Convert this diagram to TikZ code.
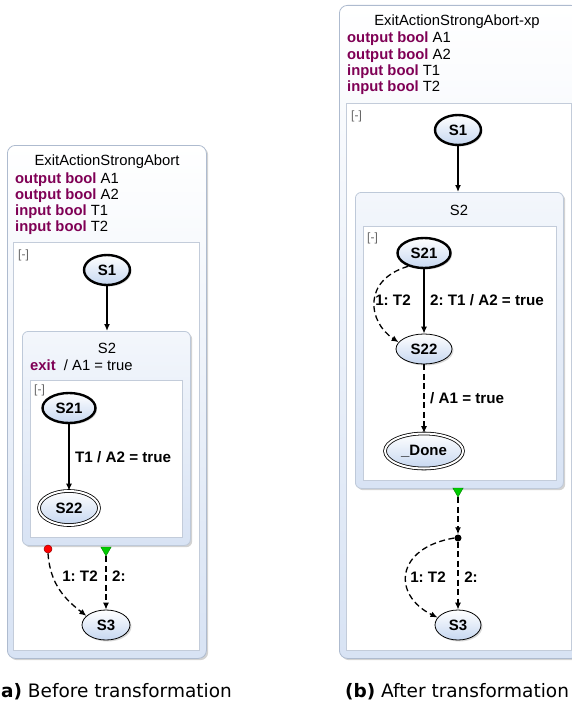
\documentclass[tikz,border=0pt]{standalone}
\usepackage{fontspec}
\setmainfont{Liberation Sans}
\newfontfamily\capfont{DejaVu Sans}
\usetikzlibrary{arrows.meta,shadows,shapes.geometric}
\definecolor{kw}{HTML}{7F0055}
\definecolor{stfill}{HTML}{C6D7F0}
\definecolor{frameline}{HTML}{AEBBCF}
\definecolor{framefill}{HTML}{D8E3F4}
\definecolor{whiteline}{HTML}{C3CCDA}
\begin{document}
\frenchspacing
\begin{tikzpicture}[x=1pt,y=-1pt,
  font=\fontsize{14.8}{16}\selectfont,
  outerbox/.style={draw=frameline, line width=0.8pt, rounded corners=8pt, top color=white, bottom color=framefill, shading angle=0,
    drop shadow={opacity=0.35, shadow xshift=1.8pt, shadow yshift=-1.8pt}, anchor=north west, inner sep=0},
  regionbox/.style={draw=whiteline, line width=0.6pt, fill=white, anchor=north west, inner sep=0},
  superbox/.style={draw=frameline!80, line width=0.8pt, rounded corners=6pt, top color=white!70!framefill, bottom color=framefill,
    drop shadow={opacity=0.35, shadow xshift=1.8pt, shadow yshift=-1.8pt}, anchor=north west, inner sep=0},
  state/.style={ellipse, draw=black, line width=0.8pt, top color=white, bottom color=stfill,
    drop shadow={opacity=0.3, shadow xshift=1.5pt, shadow yshift=-1.5pt},
    font=\fontsize{15}{17}\selectfont\bfseries, inner sep=0, minimum height=30pt},
  initstate/.style={state, line width=2.4pt},
  finalstate/.style={state, line width=0.8pt, double=white, double distance=2pt},
  arr/.style={line width=1.3pt, -{Latex[length=7pt,width=6pt]}},
  darr/.style={arr, dash pattern=on 6pt off 3.5pt},
  lbl/.style={font=\fontsize{15.2}{17}\selectfont\bfseries, inner sep=1pt},
  decl/.style={anchor=west, inner sep=0},
  coll/.style={anchor=west, inner sep=0, text=gray!80!black, font=\fontsize{12}{13}\selectfont},
  reddot/.style={circle, fill=red, draw=red!60!black, line width=0.5pt, minimum size=8pt, inner sep=0},
  greentri/.style={regular polygon, regular polygon sides=3, shape border rotate=180, fill=green!80!black, draw=green!50!black, line width=0.4pt, minimum size=12pt, inner sep=0},
  blackdot/.style={circle, fill=black, minimum size=7pt, inner sep=0}
]
\useasboundingbox (0,0) rectangle (572,706);

% ================= Left diagram =================
\node[outerbox, minimum width=199pt, minimum height=513pt] (LO) at (7,145) {};
\node[regionbox, minimum width=186pt, minimum height=408pt] (LR) at (13,242) {};
\node (LT) at (107,162) {ExitActionStrongAbort};
\node[decl] (Ld1) at (15,180) {\textcolor{kw}{\bfseries output bool} A1};
\node[decl] (Ld2) at (15,196) {\textcolor{kw}{\bfseries output bool} A2};
\node[decl] (Ld3) at (15,212) {\textcolor{kw}{\bfseries input bool} T1};
\node[decl] (Ld4) at (15,228) {\textcolor{kw}{\bfseries input bool} T2};
\node[coll] (Lc1) at (18,255) {[-]};

\node[superbox, minimum width=168pt, minimum height=214pt] (LS2) at (22,331) {};
\node (LS2t) at (107,348) {S2};
\node[decl] (LS2e) at (30,365) {\textcolor{kw}{\bfseries exit}\ \ / A1 = true};
\node[regionbox, minimum width=152pt, minimum height=157pt] (LS2r) at (30,380) {};
\node[coll] (Lc2) at (34,390) {[-]};

\node[initstate, minimum width=46pt] (LS1) at (107,270) {S1};
\node[initstate, minimum width=53pt] (LS21) at (69,408) {S21};
\node[finalstate, minimum width=60pt, minimum height=34pt] (LS22) at (69,508) {S22};
\node[state, minimum width=48pt] (LS3) at (106,625) {S3};

\node[reddot] (Lred) at (48,549) {};
\node[greentri] (Lgreen) at (106,550) {};

\draw[arr] (LS1.south) -- (LS1.south |- LS2.north);
\draw[arr] (LS21) -- (LS22);
\node[lbl, anchor=west] (Ll1) at (74,457) {T1 / A2 = true};
\draw[darr] (Lred.south) .. controls (50,585) and (66,600) .. (LS3.155);
\draw[darr] (Lgreen.south) -- (LS3.north);
\node[lbl] (Ll2) at (80,576) {1: T2};
\node[lbl] (Ll3) at (119,576) {2:};

\node[anchor=east, inner sep=0, font=\capfont\fontsize{18.5}{21}\selectfont] (Lcap) at (232,692) {\textbf{(a)} Before transformation};

% ================= Right diagram =================
\node[outerbox, minimum width=240pt, minimum height=653pt] (RO) at (339,5) {};
\node[regionbox, minimum width=225pt, minimum height=547pt] (RR) at (346,103) {};
\node (RT) at (457,22) {ExitActionStrongAbort-xp};
\node[decl] (Rd1) at (347,39) {\textcolor{kw}{\bfseries output bool} A1};
\node[decl] (Rd2) at (347,56) {\textcolor{kw}{\bfseries output bool} A2};
\node[decl] (Rd3) at (347,72) {\textcolor{kw}{\bfseries input bool} T1};
\node[decl] (Rd4) at (347,88) {\textcolor{kw}{\bfseries input bool} T2};
\node[coll] (Rc1) at (351,116) {[-]};

\node[superbox, minimum width=208pt, minimum height=296pt] (RS2) at (355,192) {};
\node (RS2t) at (459,210) {S2};
\node[regionbox, minimum width=193pt, minimum height=254pt] (RS2r) at (363,226) {};
\node[coll] (Rc2) at (367,238) {[-]};

\node[initstate, minimum width=46pt] (RS1) at (458,130) {S1};
\node[initstate, minimum width=53pt] (RS21) at (424,253) {S21};
\node[state, minimum width=56pt] (RS22) at (424,349) {S22};
\node[finalstate, minimum width=78pt, minimum height=35pt] (RDone) at (424,451) {\_Done};
\node[state, minimum width=46pt] (RS3) at (458,625) {S3};

\node[greentri] (Rgreen) at (458,491) {};
\node[blackdot] (Rdot) at (458,538) {};

\draw[arr] (RS1.south) -- (RS1.south |- RS2.north);
\draw[arr] (RS21) -- (RS22);
\draw[darr] (RS21.220) .. controls (362,280) and (368,322) .. (RS22.165);
\node[lbl] (Rl1) at (393,300) {1: T2};
\node[lbl, anchor=west] (Rl2) at (429,300) {2: T1 / A2 = true};
\draw[darr] (RS22) -- (RDone);
\node[lbl, anchor=west] (Rl3) at (429,398) {/ A1 = true};

\draw[darr] (Rgreen.south) -- (Rdot);
\draw[darr] (Rdot) -- (RS3.north);
\draw[darr] (Rdot.west) .. controls (395,548) and (392,595) .. (RS3.160);
\node[lbl] (Rl4) at (428,577) {1: T2};
\node[lbl] (Rl5) at (471,577) {2:};

\node[anchor=west, inner sep=0, font=\capfont\fontsize{18.5}{21}\selectfont] (Rcap) at (345,692) {\textbf{(b)} After transformation};
\end{tikzpicture}
\end{document}
